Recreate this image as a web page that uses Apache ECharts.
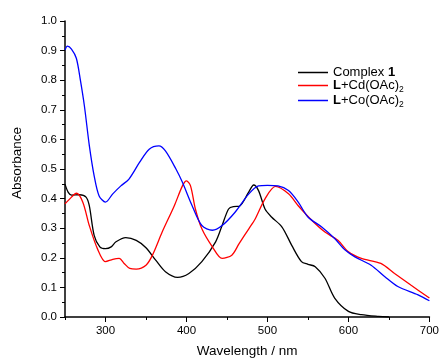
<!DOCTYPE html>
<html><head><meta charset="utf-8">
<script src="https://cdn.jsdelivr.net/npm/echarts@6/dist/echarts.min.js"></script>
<style>html,body{margin:0;padding:0;background:#fff}#c{width:442px;height:363px}</style>
</head><body><div id="c"></div>
<script>
const seriesNames = ['Complex 1', 'L+Cd(OAc)2', 'L+Co(OAc)2'];
const blackX = [250,254,258,268,276,280,286,293,300,307,313,325,338,350,362,374,389,403,419,436,444,452,458,465,477,483,489,497,505,518,530,542,550,559,571,583,600,616,637,650];
const blackY = [0.449,0.421,0.412,0.413,0.405,0.376,0.276,0.237,0.231,0.237,0.254,0.268,0.259,0.234,0.192,0.153,0.134,0.147,0.187,0.254,0.309,0.365,0.373,0.374,0.423,0.446,0.427,0.365,0.338,0.304,0.242,0.187,0.178,0.170,0.131,0.064,0.019,0.008,0.002,0.0];
const redX = [250,258,264,272,280,290,300,309,317,323,330,338,350,358,370,385,395,400,405,411,419,432,444,456,465,477,485,497,510,526,538,555,571,587,600,616,640,657,677,700];
const redY = [0.382,0.405,0.418,0.388,0.309,0.231,0.187,0.195,0.198,0.181,0.164,0.162,0.175,0.209,0.287,0.376,0.443,0.460,0.443,0.365,0.298,0.237,0.198,0.209,0.248,0.298,0.332,0.399,0.441,0.416,0.376,0.326,0.287,0.259,0.220,0.198,0.181,0.147,0.108,0.064];
const blueX = [250,253,258,264,269,274,280,286,292,300,309,319,329,342,354,366,374,387,395,407,419,432,444,460,477,489,500,513,526,538,550,567,583,596,608,628,645,661,686,700];
const blueY = [0.902,0.915,0.905,0.874,0.800,0.712,0.580,0.477,0.410,0.388,0.416,0.443,0.466,0.522,0.567,0.578,0.561,0.500,0.455,0.376,0.309,0.293,0.309,0.354,0.416,0.443,0.445,0.443,0.427,0.388,0.338,0.304,0.265,0.226,0.203,0.175,0.136,0.103,0.075,0.055];
const xMajorTicks = [300,400,500,600,700];
const xMinorTicks = [250,350,450,550,650];

const zip = (xs, ys) => xs.map((x, i) => [x, ys[i]]);
const font = 'Liberation Sans, Arial, sans-serif';
const chart = echarts.init(document.getElementById('c'));
const legendRich = {
  b: {fontWeight: 'bold', fontSize: 13, fontFamily: font, color: '#000'},
  s: {fontSize: 8.5, fontFamily: font, color: '#000', padding: [8, 0, 0, 0]}
};
chart.setOption({
  animation: false,
  backgroundColor: '#fff',
  grid: {left: 65, right: 10, top: 21, bottom: 44},
  legend: {
    orient: 'vertical', left: 293, top: 61, itemGap: 0,
    icon: 'rect', itemWidth: 30, itemHeight: 1.5,
    textStyle: {fontSize: 13, fontFamily: font, color: '#000', rich: legendRich},
    formatter: function (n) {
      if (n === seriesNames[0]) return 'Complex {b|1}';
      if (n === seriesNames[1]) return '{b|L}+Cd(OAc){s|2}';
      return '{b|L}+Co(OAc){s|2}';
    },
    data: seriesNames
  },
  xAxis: [{
    type: 'value', min: 250, max: 700, interval: 50,
    name: 'Wavelength / nm', nameLocation: 'middle', nameGap: 27,
    nameTextStyle: {fontSize: 13.5, fontFamily: font, color: '#000'},
    axisLine: {lineStyle: {color: '#000', width: 1.5}},
    axisTick: {show: true, length: 5, customValues: xMajorTicks, lineStyle: {color: '#000'}},
    axisLabel: {fontSize: 11.5, fontFamily: font, color: '#000', customValues: xMajorTicks, margin: 8},
    splitLine: {show: false}
  }, {
    type: 'value', min: 250, max: 700, interval: 50, position: 'bottom',
    axisLine: {show: false},
    axisTick: {show: true, length: 3, customValues: xMinorTicks, lineStyle: {color: '#000'}},
    axisLabel: {show: false},
    splitLine: {show: false}
  }],
  yAxis: {
    type: 'value', min: 0, max: 1, interval: 0.1,
    name: 'Absorbance', nameLocation: 'middle', nameGap: 41,
    nameTextStyle: {fontSize: 13.5, fontFamily: font, color: '#000', padding: [0, 0, 0, 12]},
    axisLine: {show: true, lineStyle: {color: '#000', width: 1.5}},
    axisTick: {show: true, length: 5, lineStyle: {color: '#000'}},
    minorTick: {show: true, splitNumber: 2, length: 3, lineStyle: {color: '#000'}},
    axisLabel: {fontSize: 11.5, fontFamily: font, color: '#000', formatter: v => v.toFixed(1), margin: 8},
    splitLine: {show: false}
  },
  series: [
    {name: seriesNames[0], type: 'line', data: zip(blackX, blackY), showSymbol: false, smooth: 0.3, lineStyle: {color: '#000', width: 1.3}, itemStyle: {color: '#000'}},
    {name: seriesNames[1], type: 'line', data: zip(redX, redY), showSymbol: false, smooth: 0.3, lineStyle: {color: '#ff0000', width: 1.3}, itemStyle: {color: '#ff0000'}},
    {name: seriesNames[2], type: 'line', data: zip(blueX, blueY), showSymbol: false, smooth: 0.3, lineStyle: {color: '#0000ff', width: 1.3}, itemStyle: {color: '#0000ff'}}
  ]
});
</script></body></html>
